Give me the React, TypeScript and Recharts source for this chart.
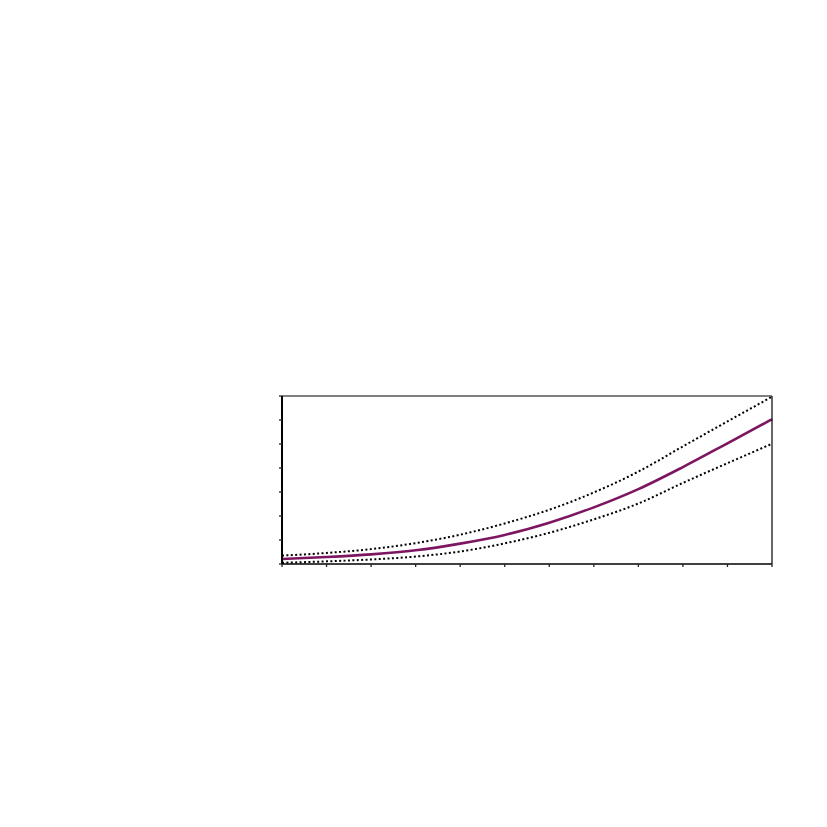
import React from "react";
import { LineChart, Line, XAxis, YAxis } from "recharts";

const xValues = [0, 1, 2, 3, 4, 5, 6, 7, 8, 9, 10, 11];
const midSeries = [0.21, 0.29, 0.4, 0.57, 0.85, 1.21, 1.72, 2.36, 3.12, 4.04, 5.03, 6.03];
const upperSeries = [0.35, 0.46, 0.62, 0.87, 1.22, 1.69, 2.26, 2.98, 3.85, 4.9, 5.94, 6.97];
const lowerSeries = [0.05, 0.11, 0.19, 0.31, 0.52, 0.86, 1.3, 1.86, 2.52, 3.38, 4.2, 5.01];
const xTicks = [0, 1, 2, 3, 4, 5, 6, 7, 8, 9, 10, 11];
const yTicks = [0, 1, 2, 3, 4, 5, 6, 7];

const data = xValues.map((x, i) => ({
  x,
  mid: midSeries[i],
  upper: upperSeries[i],
  lower: lowerSeries[i],
}));

const NoLabel = () => <g />;

export default function App() {
  return (
    <div style={{ position: "absolute", left: 0, top: 0, width: 827, height: 827, background: "#fff" }}>
      <LineChart
        width={827}
        height={827}
        data={data}
        margin={{ top: 386, right: 45, bottom: 253, left: 272 }}
      >
        <XAxis
          xAxisId="b"
          dataKey="x"
          type="number"
          domain={[0, 11]}
          ticks={xTicks}
          height={10}
          tick={NoLabel}
          tickSize={3}
          stroke="#000"
          axisLine={{ stroke: "#000", strokeWidth: 1.5 }}
          tickLine={{ stroke: "#222", strokeWidth: 1.3 }}
        />
        <XAxis
          xAxisId="t"
          orientation="top"
          dataKey="x"
          type="number"
          domain={[0, 11]}
          height={10}
          tick={NoLabel}
          tickLine={false}
          axisLine={{ stroke: "#000", strokeWidth: 1.2 }}
        />
        <YAxis
          yAxisId="l"
          type="number"
          domain={[0, 7]}
          ticks={yTicks}
          width={10}
          tick={NoLabel}
          tickSize={3}
          axisLine={{ stroke: "#000", strokeWidth: 2 }}
          tickLine={{ stroke: "#222", strokeWidth: 1.3 }}
        />
        <YAxis
          yAxisId="r"
          orientation="right"
          type="number"
          domain={[0, 7]}
          width={10}
          tick={NoLabel}
          tickLine={false}
          axisLine={{ stroke: "#000", strokeWidth: 1.2 }}
        />
        <Line
          xAxisId="b"
          yAxisId="l"
          type="monotone"
          dataKey="upper"
          stroke="#000"
          strokeWidth={2}
          strokeDasharray="2 2.4"
          dot={false}
          activeDot={false}
          isAnimationActive={false}
        />
        <Line
          xAxisId="b"
          yAxisId="l"
          type="monotone"
          dataKey="lower"
          stroke="#000"
          strokeWidth={2}
          strokeDasharray="2 2.4"
          dot={false}
          activeDot={false}
          isAnimationActive={false}
        />
        <Line
          xAxisId="b"
          yAxisId="l"
          type="monotone"
          dataKey="mid"
          stroke="#7D1660"
          strokeWidth={2.6}
          dot={false}
          activeDot={false}
          isAnimationActive={false}
        />
      </LineChart>
    </div>
  );
}
